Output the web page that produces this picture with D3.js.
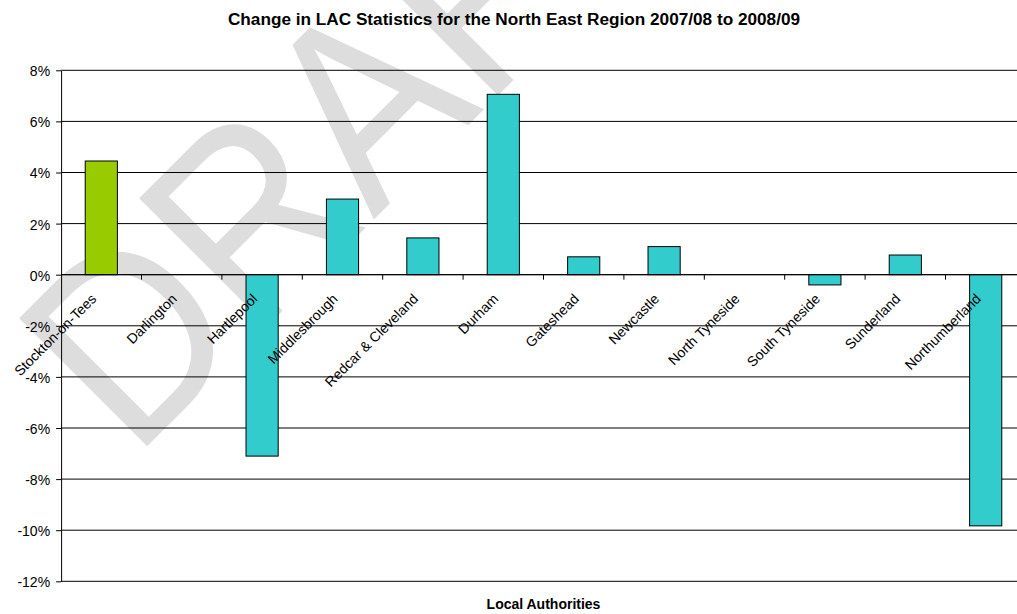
<!DOCTYPE html>
<html>
<head>
<meta charset="utf-8">
<script src="https://cdn.jsdelivr.net/npm/d3@7"></script>
<style>
  body { margin: 0; background: #fff; }
  text { font-family: "Liberation Sans", Arial, sans-serif; }
</style>
</head>
<body>
<div id="chart"></div>
<script>
// chart data
var categories = ["Stockton-on-Tees", "Darlington", "Hartlepool", "Middlesbrough",
  "Redcar & Cleveland", "Durham", "Gateshead", "Newcastle", "North Tyneside",
  "South Tyneside", "Sunderland", "Northumberland"];
var changes = [4.45, 0, -7.1, 2.96, 1.44, 7.06, 0.7, 1.1, 0, -0.4, 0.77, -9.83];
var highlight = "Stockton-on-Tees";
var yTicks = [8, 6, 4, 2, 0, -2, -4, -6, -8, -10, -12];
var title = "Change in LAC Statistics for the North East Region 2007/08 to 2008/09";
var xTitle = "Local Authorities";

var width = 1017, height = 614;
var plot = {left: 61.1, right: 1025.9, top: 70.3, bottom: 581.3};

var svg = d3.select("#chart")
  .append("svg")
    .attr("width", width)
    .attr("height", height);

// watermark behind everything (stretched vertically like a Word watermark)
svg.append("text")
  .attr("transform", "translate(146.7,446.7) rotate(-45) scale(1,1.12)")
  .attr("x", -18.6)
  .style("font-size", "235px")
  .attr("fill", "#dddddd")
  .text("DRAFT");

// scales
var xCat = d3.scaleBand()
  .domain(categories)
  .range([plot.left, plot.right]);

var x = d3.scaleBand()
  .domain(categories)
  .range([plot.left, plot.right])
  .paddingInner(0.6)
  .paddingOuter(0.3);

var y = d3.scaleLinear()
  .domain([-12, 8])
  .range([plot.bottom, plot.top]);

// gridlines
svg.append("g")
  .selectAll("line")
  .data(yTicks)
  .enter()
  .append("line")
    .attr("x1", plot.left)
    .attr("x2", plot.right)
    .attr("y1", function(d) { return y(d); })
    .attr("y2", function(d) { return y(d); })
    .attr("stroke", "#000")
    .attr("stroke-width", 1);

// Y axis
var yAxis = svg.append("g")
  .attr("transform", "translate(" + plot.left + ",0)")
  .call(d3.axisLeft(y).tickValues(yTicks).tickSize(5).tickSizeOuter(0).tickPadding(6)
    .tickFormat(function(d) { return d + "%"; }));
yAxis.selectAll("text")
  .style("font-size", "14px")
  .attr("fill", "#000")
  .attr("dy", "0.39em");
yAxis.selectAll("line, path").attr("stroke", "#000");

// bars
svg.append("g")
  .selectAll("rect")
  .data(changes)
  .enter()
  .append("rect")
    .attr("x", function(d, i) { return x(categories[i]); })
    .attr("y", function(d) { return y(Math.max(0, d)); })
    .attr("width", x.bandwidth())
    .attr("height", function(d) { return Math.abs(y(d) - y(0)); })
    .attr("fill", function(d, i) { return categories[i] === highlight ? "#99cc00" : "#33cccc"; })
    .attr("stroke", "#000")
    .attr("stroke-width", 1);

// X axis at zero
var xAxis = svg.append("g")
  .attr("transform", "translate(0," + y(0) + ")");
xAxis.append("line")
  .attr("x1", plot.left)
  .attr("x2", plot.right)
  .attr("stroke", "#000");
xAxis.selectAll(".tick")
  .data(categories.slice(1).concat([null]))
  .enter()
  .append("line")
    .attr("x1", function(d) { return d ? xCat(d) : plot.right; })
    .attr("x2", function(d) { return d ? xCat(d) : plot.right; })
    .attr("y2", 5)
    .attr("stroke", "#000");
xAxis.selectAll(".lbl")
  .data(categories)
  .enter()
  .append("text")
    .attr("transform", function(d) {
      return "translate(" + (xCat(d) + xCat.bandwidth() / 2 - 4) + ",25) rotate(-45)";
    })
    .attr("text-anchor", "end")
    .style("font-size", "14px")
    .text(function(d) { return d; });

// titles
svg.append("text")
  .attr("x", 514)
  .attr("y", 25)
  .attr("text-anchor", "middle")
  .style("font-size", "17.2px")
  .style("font-weight", "bold")
  .text(title);

svg.append("text")
  .attr("x", (plot.left + plot.right) / 2)
  .attr("y", 609)
  .attr("text-anchor", "middle")
  .style("font-size", "14px")
  .style("font-weight", "bold")
  .text(xTitle);
</script>
</body>
</html>
